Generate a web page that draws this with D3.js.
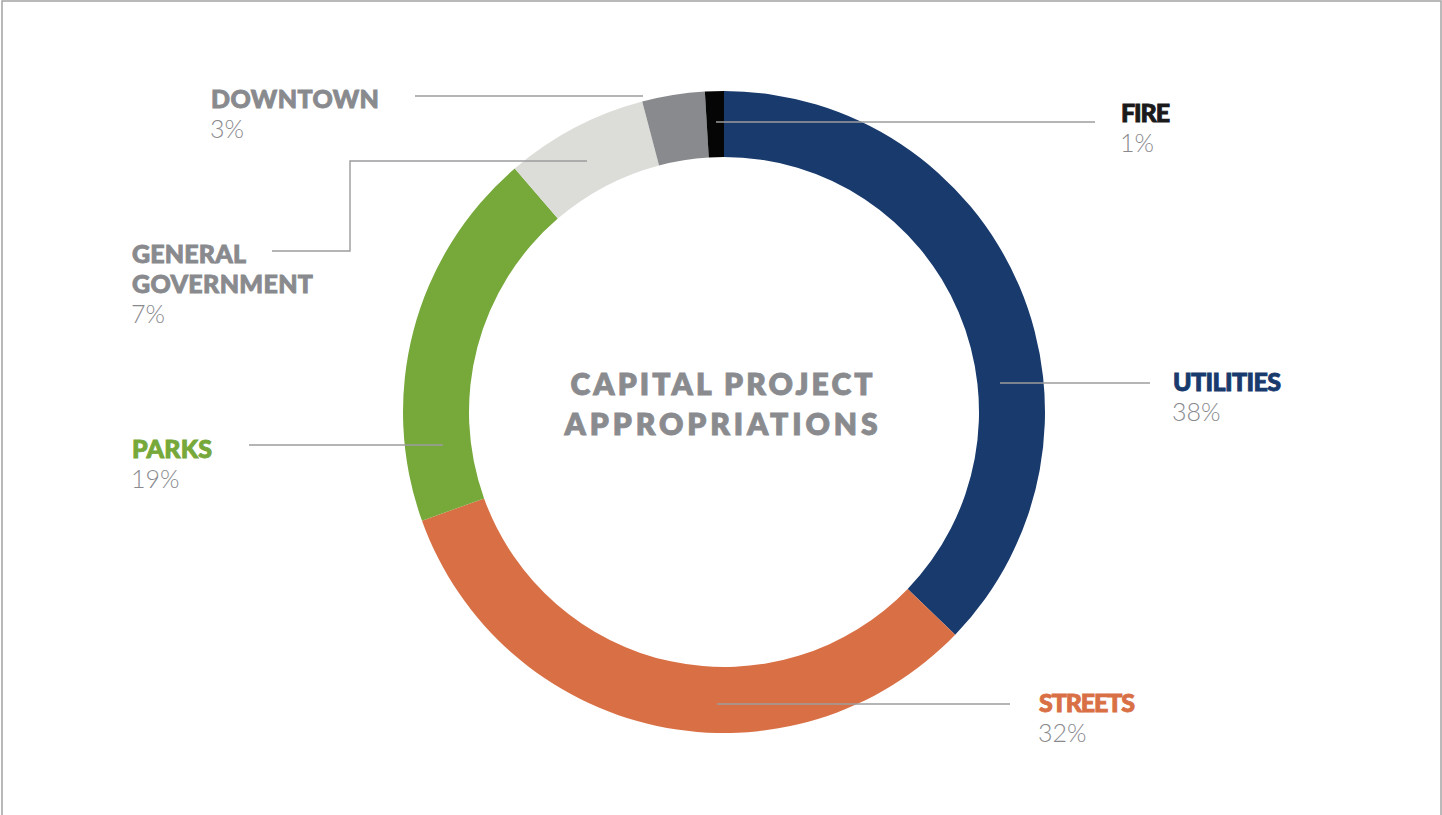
<!DOCTYPE html>
<html>
<head>
<meta charset="utf-8">
<script src="https://cdn.jsdelivr.net/npm/d3@7"></script>
<style>
  html, body { margin: 0; padding: 0; background: #fff; }
  svg { display: block; }
  text { font-family: Lato, "Open Sans", sans-serif; }
</style>
</head>
<body>
<svg id="chart"></svg>
<script>
// data
var categories = ["UTILITIES", "STREETS", "PARKS", "GENERAL GOVERNMENT", "DOWNTOWN", "FIRE"];
var shares = [37.2, 32.3, 19.2, 7.2, 3.15, 0.95];
var pctLabels = ["38%", "32%", "19%", "7%", "3%", "1%"];
var colors = ["#183a6d", "#d97045", "#76a83a", "#dcddd8", "#898a8e", "#050505"];
var labelColors = ["#183a6d", "#d97045", "#76a83a", "#898a8e", "#898a8e", "#1a1a1a"];
var title = ["CAPITAL PROJECT", "APPROPRIATIONS"];

var width = 1442, height = 815;
var cx = 724, cy = 412, outerR = 321, innerR = 255;

// label placement (x, baseline of first line, leader polyline, target widths of lines)
var layout = {
  "UTILITIES": { x: 1173, y: 391, lines: ["UTILITIES"], w: [109], leader: [[1000, 383], [1150, 383]] },
  "STREETS": { x: 1039, y: 712, lines: ["STREETS"], w: [97], leader: [[717, 704], [1010, 704]] },
  "PARKS": { x: 132, y: 458, lines: ["PARKS"], w: [81], leader: [[249, 445], [443, 445]] },
  "GENERAL GOVERNMENT": { x: 132, y: 263, lines: ["GENERAL", "GOVERNMENT"], w: [115, 182], leader: [[272, 251], [350, 251], [350, 161], [587, 161]] },
  "DOWNTOWN": { x: 211, y: 108, lines: ["DOWNTOWN"], w: [169], leader: [[415, 96], [643, 96]] },
  "FIRE": { x: 1121, y: 122, lines: ["FIRE"], w: [50], leader: [[716, 122], [1095, 122]] }
};

var svg = d3.select("#chart").attr("width", width).attr("height", height);

// frame
svg.append("rect")
  .attr("x", 2).attr("y", 1)
  .attr("width", 1439).attr("height", 840)
  .attr("fill", "none").attr("stroke", "#a3a3a3").attr("stroke-width", 1.5);

var data = categories.map(function(c, i) {
  return { name: c, value: shares[i], pct: pctLabels[i], color: colors[i], labelColor: labelColors[i] };
});

var pie = d3.pie().sort(null).value(function(d) { return d.value; });
var arc = d3.arc().innerRadius(innerR).outerRadius(outerR);

var g = svg.append("g").attr("transform", "translate(" + cx + "," + cy + ")");
g.selectAll("path").data(pie(data)).enter().append("path")
  .attr("d", arc)
  .attr("fill", function(d) { return d.data.color; });

// leader lines
var lineGen = d3.line();
svg.append("g").selectAll("path").data(data).enter().append("path")
  .attr("d", function(d) { return lineGen(layout[d.name].leader); })
  .attr("fill", "none")
  .attr("stroke", "#9c9c9e")
  .attr("stroke-width", 1.4);

// stretch text to the widths seen in the picture
function fit(sel, target) {
  var n = sel.text().length;
  var len = sel.node().getComputedTextLength();
  if (n > 1) sel.attr("letter-spacing", ((target - len) / (n - 1)).toFixed(2) + "px");
}

var labels = svg.append("g").selectAll("g").data(data).enter().append("g");
labels.each(function(d) {
  var L = layout[d.name];
  var grp = d3.select(this);
  L.lines.forEach(function(line, i) {
    var t = grp.append("text")
      .attr("x", L.x).attr("y", L.y + i * 30)
      .attr("font-size", 25)
      .attr("font-weight", 900)
      .attr("fill", d.labelColor)
      .attr("stroke", d.labelColor)
      .attr("stroke-width", 0.9)
      .text(line);
    fit(t, L.w[i] - 1);
  });
  grp.append("text")
    .attr("x", L.x - 1).attr("y", L.y + L.lines.length * 30 - 0.5)
    .attr("font-size", 25)
    .attr("font-weight", 300)
    .attr("fill", "#8a8a8e")
    .text(d.pct);
});

// centre title
var titleWidths = [303, 314];
title.forEach(function(line, i) {
  var t = svg.append("text")
    .attr("x", cx - 1).attr("y", 395 + i * 40)
    .attr("text-anchor", "middle")
    .attr("font-size", 30)
    .attr("font-weight", 800)
    .attr("fill", "#8a8b8f")
    .attr("stroke", "#8a8b8f")
    .attr("stroke-width", 0.8)
    .text(line);
  fit(t, titleWidths[i] - 1);
});
</script>
</body>
</html>
